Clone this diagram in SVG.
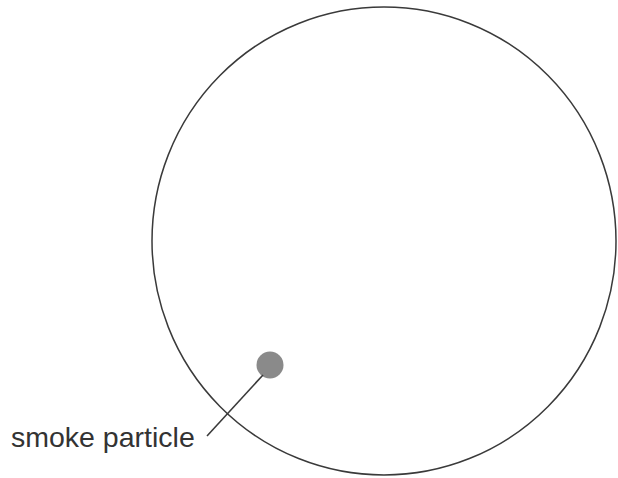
<svg xmlns="http://www.w3.org/2000/svg" width="618" height="478" viewBox="0 0 618 478">
<style>
.outline{fill:none;stroke:#3a3a3a;stroke-width:1.5}
.lead{stroke:#3a3a3a;stroke-width:1.6;fill:none}
.label{font-family:"Liberation Sans",Arial,sans-serif;font-size:28.5px;fill:#333}
</style>
<rect width="618" height="478" fill="#fff"/>
<g id="container">
<ellipse class="outline" cx="384" cy="241" rx="232" ry="234"/>
</g>
<g id="particle">
<circle cx="270" cy="365" r="13.5" fill="#8a8a8a"/>
</g>
<g id="connectors">
<line class="lead" x1="263" y1="375" x2="207" y2="436"/>
</g>
<g id="label">
<text class="label" x="11" y="447">smoke particle</text>
</g>
</svg>
